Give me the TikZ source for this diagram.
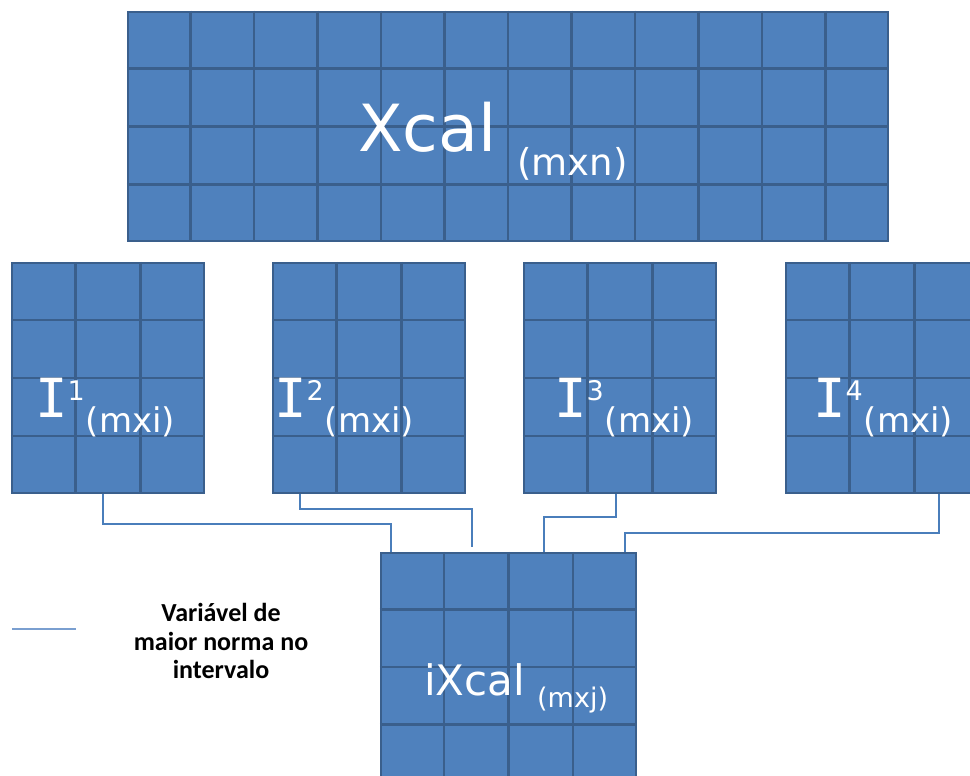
\documentclass[tikz,border=0pt]{standalone}
\usepackage{fontspec}
\setmainfont{DejaVu Sans}
\newfontfamily\monoIfont{DejaVu Sans Mono}
\newfontfamily\legendfont{Carlito}
\usetikzlibrary{calc}
\definecolor{cellfill}{HTML}{4F81BD}
\definecolor{celledge}{HTML}{3A5F8C}
\definecolor{connblue}{HTML}{4A7EBB}
\definecolor{legendblue}{HTML}{7A9FD0}
\newcommand\Ilabel[1]{{\fontsize{54}{54}\monoIfont I}\raisebox{17pt}{\fontsize{27}{27}\selectfont #1}\kern1pt\raisebox{-15pt}{\fontsize{34}{34}\selectfont (mxi)}}
\begin{document}
\begin{tikzpicture}[x=1pt,y=-1pt,
  matbox/.style={draw=celledge, fill=cellfill, line width=2.5pt, inner sep=0pt},
  gridline/.style={draw=celledge, line width=2.5pt},
  conn/.style={draw=connblue, line width=1.6pt},
  whitelabel/.style={text=white, inner sep=0pt, anchor=base west}]
\useasboundingbox (0,0) rectangle (970,776);
\clip (0,0) rectangle (970,776);
% top matrix
\node[matbox, minimum width=760pt, minimum height=229pt] (xcal) at (508,126.5) {};
\foreach \k in {1,...,11}
  \draw[gridline] ($(xcal.north west)!\k/12!(xcal.north east)$) -- ($(xcal.south west)!\k/12!(xcal.south east)$);
\foreach \k in {1,2,3}
  \draw[gridline] ($(xcal.north west)!\k/4!(xcal.south west)$) -- ($(xcal.north east)!\k/4!(xcal.south east)$);
% interval matrices
\foreach \n/\cx in {i1/108, i2/369, i3/620, i4/882} {
  \node[matbox, minimum width=192pt, minimum height=230pt] (\n) at (\cx,378) {};
  \foreach \k in {1,2}
    \draw[gridline] ($(\n.north west)!\k/3!(\n.north east)$) -- ($(\n.south west)!\k/3!(\n.south east)$);
  \foreach \k in {1,2,3}
    \draw[gridline] ($(\n.north west)!\k/4!(\n.south west)$) -- ($(\n.north east)!\k/4!(\n.south east)$);
}
% result matrix
\node[matbox, minimum width=255pt, minimum height=228pt] (ixcal) at (508.5,667) {};
\foreach \k in {1,2,3}
  \draw[gridline] ($(ixcal.north west)!\k/4!(ixcal.north east)$) -- ($(ixcal.south west)!\k/4!(ixcal.south east)$);
\foreach \k in {1,2,3}
  \draw[gridline] ($(ixcal.north west)!\k/4!(ixcal.south west)$) -- ($(ixcal.north east)!\k/4!(ixcal.south east)$);
% labels
\node[whitelabel] (lxcal) at (358,151) {\fontsize{65}{65}\selectfont Xcal};
\node[whitelabel] (lmxn) at (517,175) {\fontsize{37}{37}\selectfont (mxn)};
\node[whitelabel] (li1) at (35,417) {\Ilabel{1}};
\node[whitelabel] (li2) at (274,417) {\Ilabel{2}};
\node[whitelabel] (li3) at (554,417) {\Ilabel{3}};
\node[whitelabel] (li4) at (813,417) {\Ilabel{4}};
\node[whitelabel] (lixcal) at (424,695) {\fontsize{42}{42}\selectfont iXcal};
\node[whitelabel] (lmxj) at (537,707) {\fontsize{27}{27}\selectfont (mxj)};
% connectors
\draw[conn] ([xshift=-5pt]i1.south) -- ++(0,30) -| ([xshift=-117.5pt]ixcal.north);
\draw[conn] ([xshift=-69pt]i2.south) -- ++(0,15) -| ([xshift=-36.5pt,yshift=5pt]ixcal.north);
\draw[conn] ([xshift=-4pt]i3.south) -- ++(0,23) -| ([xshift=35.5pt]ixcal.north);
\draw[conn] ([xshift=57pt]i4.south) -- ++(0,39) -| ([xshift=116.5pt]ixcal.north);
% legend
\coordinate (legA) at (12,629);
\coordinate (legB) at (76,629);
\draw[draw=legendblue, line width=1.2pt] (legA) -- (legB);
\node[align=center, inner sep=0pt, font=\legendfont\bfseries\fontsize{26}{28.5}\selectfont] (legtext) at (221,641) {Variável de\\maior norma no\\intervalo};
\end{tikzpicture}
\end{document}
